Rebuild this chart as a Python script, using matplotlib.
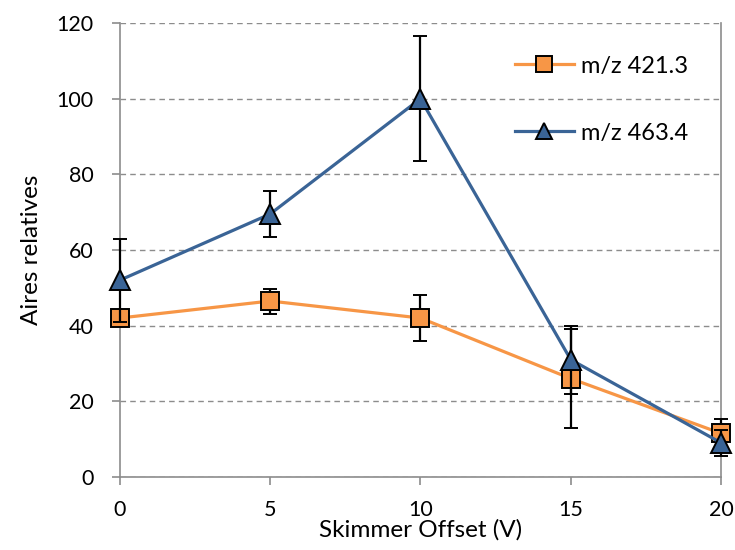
import numpy as np
import matplotlib
matplotlib.use("Agg")
import matplotlib.pyplot as plt
from matplotlib.lines import Line2D

plt.rcParams['font.family'] = ['Lato', 'DejaVu Sans']

# data
offset = [0, 5, 10, 15, 20]
aires_421 = [42, 46.5, 42, 26, 11.5]
err_421 = [1.5, 3.3, 6, 13, 3.8]
aires_463 = [52, 69.5, 100, 31, 9]
err_463 = [11, 6.2, 16.5, 9, 3.4]

orange = "#F79646"
blue = "#3A6496"

fig = plt.figure(figsize=(7.35, 5.5), dpi=100)
ax = fig.add_axes([0.163, 0.133, 0.818, 0.825])

line_kw = dict(lw=2.3, mec="black", mew=1.4, ecolor="black", elinewidth=1.6,
               capsize=5, capthick=1.6)
c1 = ax.errorbar(offset, aires_421, yerr=err_421, color=orange, marker="s",
                 ms=13, mfc=orange, zorder=3, **line_kw)
c2 = ax.errorbar(offset, aires_463, yerr=err_463, color=blue, marker="^",
                 ms=14, mfc=blue, zorder=4, **line_kw)
for c in (c1, c2):
    c[0].set_clip_on(False)
    for art in c[1]:
        art.set_clip_on(False)
    for art in c[2]:
        art.set_clip_on(False)

ax.set_xlim(0, 20)
ax.set_ylim(0, 120)
ax.set_xticks([0, 5, 10, 15, 20])
ax.set_yticks(np.arange(0, 121, 20))
ax.yaxis.grid(True, linestyle=(0, (4, 3)), color="#8c8c8c", lw=1)
ax.set_axisbelow(True)

for s in ["left", "bottom", "right"]:
    ax.spines[s].set_color("#8c8c8c")
    ax.spines[s].set_linewidth(1.2)
ax.spines["top"].set_visible(False)
ax.tick_params(axis="both", labelsize=15.5, color="#8c8c8c", length=6, width=1.2)
ax.tick_params(axis="y", pad=13)
ax.tick_params(axis="x", pad=11)

ax.set_xlabel("Skimmer Offset (V)", fontsize=17.5, labelpad=-1)
ax.set_ylabel("Aires relatives", fontsize=17.5, labelpad=10)

handles = [
    Line2D([], [], color=orange, lw=2.3, marker="s", ms=11, mfc=orange,
           mec="black", mew=1.4),
    Line2D([], [], color=blue, lw=2.3, marker="^", ms=12, mfc=blue,
           mec="black", mew=1.4),
]
ax.legend(handles, ["m/z 421.3", "m/z 463.4"], loc="upper right",
          bbox_to_anchor=(0.98, 0.975), frameon=False, fontsize=17,
          labelspacing=1.95, handlelength=2.5, handletextpad=0.3)

fig.savefig("out.png", dpi=100)
